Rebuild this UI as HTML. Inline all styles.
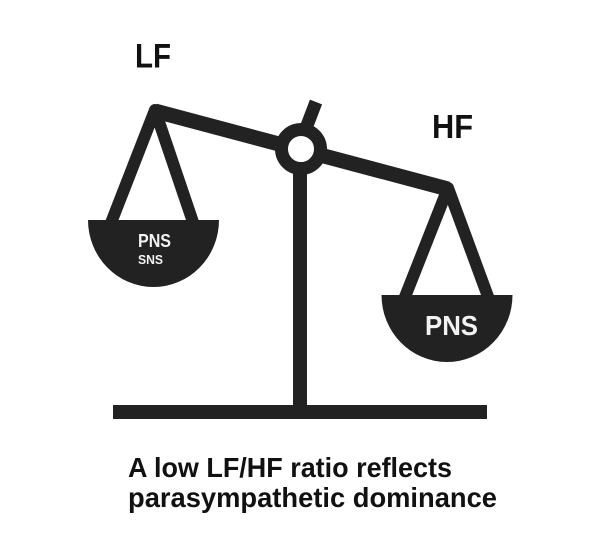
<!DOCTYPE html>
<html>
<head>
<meta charset="utf-8">
<style>
  html, body { margin: 0; padding: 0; background: #ffffff; }
  svg { display: block; }
  text { font-family: "Liberation Sans", sans-serif; font-weight: bold; }
</style>
</head>
<body>
<svg width="600" height="558" viewBox="0 0 600 558" xmlns="http://www.w3.org/2000/svg">
  <rect x="0" y="0" width="600" height="558" fill="#ffffff"/>

  <!-- base and post -->
  <rect x="113" y="405" width="374" height="14" fill="#222"/>
  <rect x="293" y="150" width="14" height="260" fill="#222"/>

  <!-- beam -->
  <line x1="155" y1="111" x2="448" y2="189" stroke="#222" stroke-width="15"/>

  <!-- top stub -->
  <line x1="303" y1="136" x2="316" y2="102" stroke="#222" stroke-width="13"/>

  <!-- pivot ring -->
  <circle cx="301" cy="149" r="19.5" fill="#ffffff" stroke="#222" stroke-width="13"/>

  <!-- left strings -->
  <polyline points="109,228 155,110 195,228" fill="none" stroke="#222" stroke-width="12" stroke-linejoin="round"/>
  <!-- right strings -->
  <polyline points="403,302 448,188 490,302" fill="none" stroke="#222" stroke-width="12" stroke-linejoin="round"/>

  <!-- left pan -->
  <path d="M88,220 A65.5 67 0 0 0 219,220 Z" fill="#222"/>
  <!-- right pan -->
  <path d="M381.5,295 A65.5 67 0 0 0 512.5,295 Z" fill="#222"/>

  <!-- pan labels -->
  <text x="138" y="247" font-size="18" fill="#f2f2f2" textLength="33" lengthAdjust="spacingAndGlyphs">PNS</text>
  <text x="138" y="264" font-size="12.5" fill="#f2f2f2" textLength="25" lengthAdjust="spacingAndGlyphs">SNS</text>
  <text x="425" y="335" font-size="28" fill="#f2f2f2" textLength="53" lengthAdjust="spacingAndGlyphs">PNS</text>

  <!-- LF / HF -->
  <text x="135" y="67.5" font-size="34" fill="#111" textLength="36" lengthAdjust="spacingAndGlyphs">LF</text>
  <text x="432" y="138" font-size="33" fill="#111" textLength="41" lengthAdjust="spacingAndGlyphs">HF</text>

  <!-- caption -->
  <text x="128" y="477" font-size="27.5" fill="#111" textLength="324" lengthAdjust="spacingAndGlyphs">A low LF/HF ratio reflects</text>
  <text x="128" y="507" font-size="27.5" fill="#111" textLength="369" lengthAdjust="spacingAndGlyphs">parasympathetic dominance</text>
</svg>
</body>
</html>
